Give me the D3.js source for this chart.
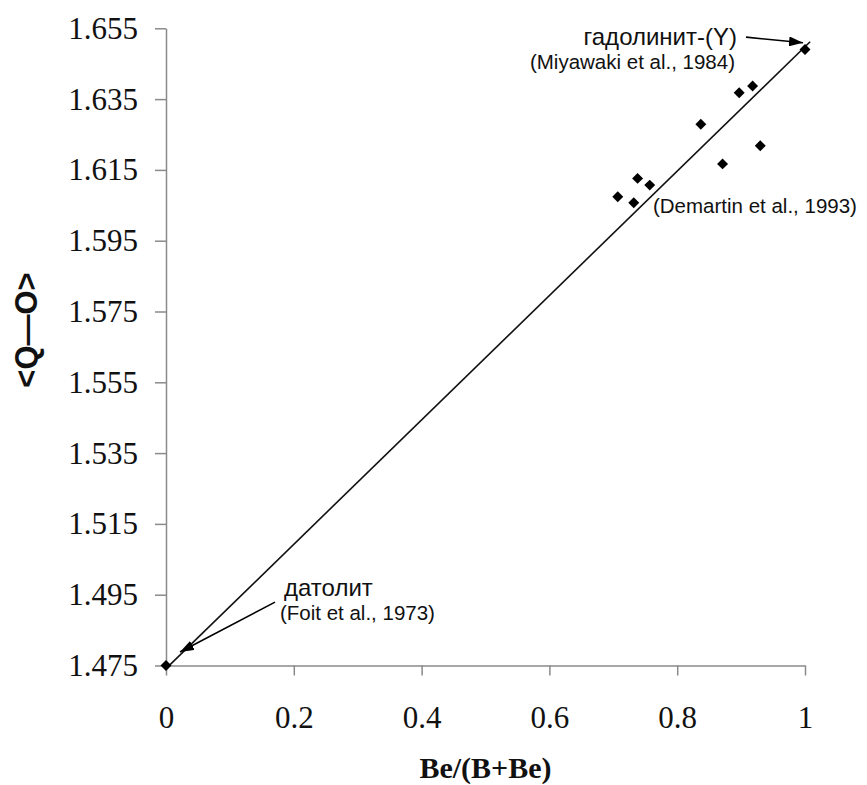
<!DOCTYPE html>
<html>
<head>
<meta charset="utf-8">
<script src="https://cdn.jsdelivr.net/npm/d3@7/dist/d3.min.js"></script>
<style>
  html, body { margin: 0; padding: 0; background: #fff; }
  svg { display: block; }
</style>
</head>
<body>
<svg id="chart" width="867" height="785"></svg>
<script>
// Be/(B+Be) ratio and mean <Q–O> distance for each structure
const beFraction = [0, 0.707, 0.732, 0.738, 0.757, 0.837, 0.871, 0.930, 0.897, 0.918, 1.0];
const meanQO     = [1.475, 1.6074, 1.6057, 1.6126, 1.6107, 1.6279, 1.6167, 1.6218, 1.6368, 1.6387, 1.649];

// Axis ticks
const xTicks = [0, 0.2, 0.4, 0.6, 0.8, 1];
const xTickLabels = ["0", "0.2", "0.4", "0.6", "0.8", "1"];
const yTicks = [1.475, 1.495, 1.515, 1.535, 1.555, 1.575, 1.595, 1.615, 1.635, 1.655];
const yTickLabels = ["1.475", "1.495", "1.515", "1.535", "1.555", "1.575", "1.595", "1.615", "1.635", "1.655"];

// Linear trend
const trendIntercept = 1.4741;
const trendSlope = 0.1757;
const trendExtent = [0, 1.008];

// Labels (anchored in data units)
const labelTexts = ["гадолинит-(Y)", "(Miyawaki et al., 1984)", "датолит", "(Foit et al., 1973)", "(Demartin et al., 1993)"];
const labelX = [0.8936, 0.8905, 0.1847, 0.1784, 0.7621];
const labelY = [1.6503, 1.6436, 1.4946, 1.4879, 1.6028];
const labelAnchor = ["end", "end", "start", "start", "start"];
const labelKind = ["name", "ref", "name", "ref", "ref"];

// Pointer arrows: tail -> tip
const arrowFrom = [[0.9077, 1.6525], [0.1706, 1.4929]];
const arrowTo   = [[0.9969, 1.6509], [0.0219, 1.4788]];

const svg = d3.select("#chart");

const x = d3.scaleLinear().domain([0, 1]).range([166, 805]);
const y = d3.scaleLinear().domain([1.475, 1.655]).range([665.5, 28.3]);

const axisColor = "#8a8a8a";

// X axis
const xAxis = svg.append("g")
  .attr("transform", `translate(0,${y(1.475)})`)
  .call(d3.axisBottom(x).tickValues(xTicks).tickFormat((d, i) => xTickLabels[i]).tickSize(10).tickSizeOuter(0).tickPadding(30));
xAxis.select(".domain").attr("stroke", axisColor).attr("stroke-width", 1.5);
xAxis.selectAll(".tick line").attr("stroke", axisColor).attr("stroke-width", 1.5);
xAxis.selectAll(".tick text")
  .attr("fill", "#111")
  .style("font-family", "'Liberation Serif', 'Times New Roman', serif")
  .style("font-size", "31px");

// Y axis
const yAxis = svg.append("g")
  .attr("transform", `translate(${x(0)},0)`)
  .call(d3.axisLeft(y).tickValues(yTicks).tickFormat((d, i) => yTickLabels[i]).tickSize(11).tickSizeOuter(0).tickPadding(17));
yAxis.select(".domain").attr("stroke", axisColor).attr("stroke-width", 1.5);
yAxis.selectAll(".tick line").attr("stroke", axisColor).attr("stroke-width", 1.5);
yAxis.selectAll(".tick text")
  .attr("fill", "#111")
  .style("font-family", "'Liberation Serif', 'Times New Roman', serif")
  .style("font-size", "31px");

// Axis titles
svg.append("text")
  .attr("x", (x(0) + x(1)) / 2)
  .attr("y", 778)
  .attr("text-anchor", "middle")
  .style("font-family", "'Liberation Serif', 'Times New Roman', serif")
  .style("font-weight", "bold")
  .style("font-size", "30px")
  .attr("fill", "#111")
  .text("Be/(B+Be)");

svg.append("text")
  .attr("transform", "translate(26,330) rotate(-90)")
  .attr("text-anchor", "middle")
  .attr("dominant-baseline", "central")
  .style("font-family", "'Liberation Sans', Arial, sans-serif")
  .style("font-weight", "bold")
  .style("font-size", "31px")
  .attr("fill", "#111")
  .text("<Q—O>");

// Trend line
svg.append("line")
  .attr("x1", x(trendExtent[0]))
  .attr("y1", y(trendIntercept + trendSlope * trendExtent[0]))
  .attr("x2", x(trendExtent[1]))
  .attr("y2", y(trendIntercept + trendSlope * trendExtent[1]))
  .attr("stroke", "#111")
  .attr("stroke-width", 1.6);

// Data points (diamonds)
const diamond = d3.symbol().type(d3.symbolSquare).size(60);
svg.append("g")
  .selectAll("path")
  .data(beFraction.map((b, i) => [b, meanQO[i]]))
  .join("path")
  .attr("d", diamond)
  .attr("transform", d => `translate(${x(d[0])},${y(d[1])}) rotate(45)`)
  .attr("fill", "#000");

// Arrowhead marker
svg.append("defs").append("marker")
  .attr("id", "head")
  .attr("markerUnits", "userSpaceOnUse")
  .attr("viewBox", "0 0 14 10")
  .attr("refX", 14)
  .attr("refY", 5)
  .attr("markerWidth", 14)
  .attr("markerHeight", 10)
  .attr("orient", "auto")
  .append("path")
  .attr("d", "M0,0 L14,5 L0,10 Z")
  .attr("fill", "#000");

svg.append("g")
  .selectAll("line")
  .data(arrowFrom.map((f, i) => [f, arrowTo[i]]))
  .join("line")
  .attr("x1", d => x(d[0][0]))
  .attr("y1", d => y(d[0][1]))
  .attr("x2", d => x(d[1][0]))
  .attr("y2", d => y(d[1][1]))
  .attr("stroke", "#000")
  .attr("stroke-width", 1.6)
  .attr("marker-end", "url(#head)");

// Annotation labels
svg.append("g")
  .selectAll("text")
  .data(labelTexts)
  .join("text")
  .attr("x", (d, i) => x(labelX[i]))
  .attr("y", (d, i) => y(labelY[i]))
  .attr("text-anchor", (d, i) => labelAnchor[i])
  .style("font-family", "'Liberation Sans', Arial, sans-serif")
  .style("font-size", (d, i) => labelKind[i] === "name" ? "24px" : "20.5px")
  .attr("fill", "#111")
  .text(d => d);
</script>
</body>
</html>
